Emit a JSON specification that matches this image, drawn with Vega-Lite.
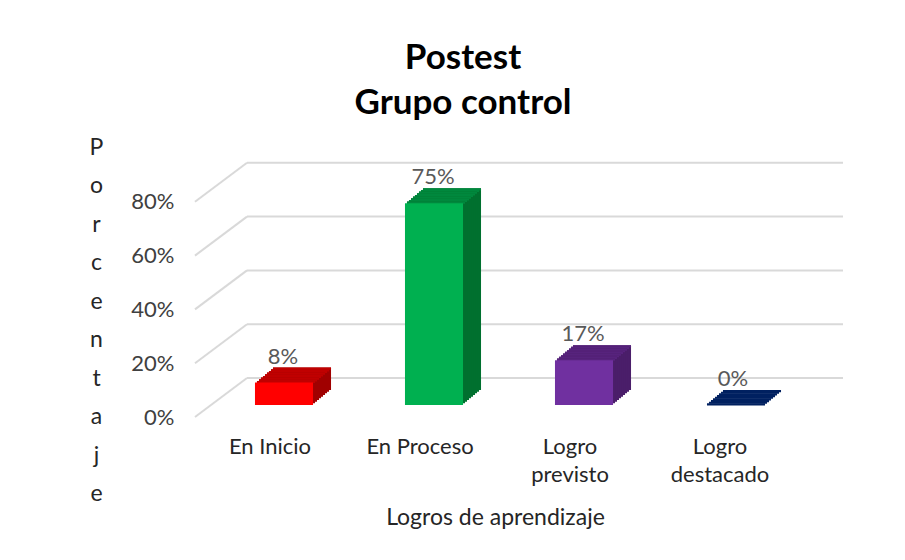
{
  "$schema": "https://vega.github.io/schema/vega-lite/v6.json",
  "width": 600,
  "height": 269,
  "autosize": "none",
  "padding": {"left": 195, "top": 148, "right": 110, "bottom": 143},
  "background": "white",
  "title": {
    "text": ["Postest", "Grupo control"],
    "font": "Lato",
    "fontSize": 35,
    "fontWeight": "bold",
    "color": "black",
    "lineHeight": 45,
    "anchor": "middle",
    "frame": "group",
    "dx": -32,
    "offset": 15
  },
  "datasets": {
    "bars": [
      {"cat": "En Inicio", "v": 0.0833},
      {"cat": "En Proceso", "v": 0.75},
      {"cat": "Logro previsto", "v": 0.1667},
      {"cat": "Logro destacado", "v": 0}
    ],
    "grid": [{"v": 0}, {"v": 0.2}, {"v": 0.4}, {"v": 0.6}, {"v": 0.8}]
  },
  "config": {
    "font": "Lato",
    "view": {"stroke": null},
    "axis": {"labelFont": "Lato", "titleFont": "Lato"}
  },
  "resolve": {"scale": {"color": "independent"}},
  "layer": [
    {
      "data": {"name": "grid"},
      "mark": {"type": "rule", "color": "#D9D9D9", "strokeWidth": 2, "xOffset": 52, "x2Offset": 48, "yOffset": -39},
      "encoding": {
        "x": {"value": 0},
        "x2": {"value": "width"},
        "y": {
          "field": "v", "type": "quantitative",
          "scale": {"domain": [0, 1]},
          "axis": {
            "values": [0, 0.2, 0.4, 0.6, 0.8],
            "format": ".0%",
            "grid": false, "ticks": false, "domain": false,
            "labelFontSize": 22, "labelColor": "#404040", "labelPadding": 21,
            "title": ["P", "o", "r", "c", "e", "n", "t", "a", "j", "e"],
            "titleAngle": 0, "titleAlign": "center", "titleBaseline": "middle",
            "titleX": -99, "titleY": -1, "titleLineHeight": 38.5,
            "titleFontSize": 23, "titleFontWeight": "normal", "titleColor": "#262626"
          }
        }
      }
    },
    {
      "data": {"name": "grid"},
      "mark": {"type": "rule", "color": "#D9D9D9", "strokeWidth": 2, "x2Offset": 52, "y2Offset": -39},
      "encoding": {
        "x": {"value": 0},
        "x2": {"value": 0},
        "y": {"field": "v", "type": "quantitative"},
        "y2": {"field": "v"}
      }
    },
    {
      "data": {"name": "bars"},
      "resolve": {"scale": {"color": "independent"}},
      "layer": [
        {"mark": {"type": "bar", "width": {"band": 0.387}, "xOffset": 32, "yOffset": -27, "y2Offset": -27},
         "encoding": {"y2": {"datum": 0}, "color": {"field": "cat", "type": "nominal", "legend": null, "scale": {"domain": ["En Inicio", "En Proceso", "Logro previsto", "Logro destacado"], "range": ["#A00000", "#00702F", "#4A1E6A", "#002060"]}}}},
        {"mark": {"type": "bar", "width": {"band": 0.387}, "xOffset": 32, "yOffset": -27, "y2Offset": -24.8},
         "encoding": {"y2": {"field": "v"}, "color": {"field": "cat", "type": "nominal", "legend": null, "scale": {"domain": ["En Inicio", "En Proceso", "Logro previsto", "Logro destacado"], "range": ["#C00000", "#00883D", "#57237D", "#002060"]}}}},
        {"mark": {"type": "bar", "width": {"band": 0.387}, "xOffset": 30, "yOffset": -25.33, "y2Offset": -25.33},
         "encoding": {"y2": {"datum": 0}, "color": {"field": "cat", "type": "nominal", "legend": null, "scale": {"domain": ["En Inicio", "En Proceso", "Logro previsto", "Logro destacado"], "range": ["#A00000", "#00702F", "#4A1E6A", "#002060"]}}}},
        {"mark": {"type": "bar", "width": {"band": 0.387}, "xOffset": 30, "yOffset": -25.33, "y2Offset": -23.13},
         "encoding": {"y2": {"field": "v"}, "color": {"field": "cat", "type": "nominal", "legend": null, "scale": {"domain": ["En Inicio", "En Proceso", "Logro previsto", "Logro destacado"], "range": ["#C00000", "#00883D", "#57237D", "#002060"]}}}},
        {"mark": {"type": "bar", "width": {"band": 0.387}, "xOffset": 28, "yOffset": -23.67, "y2Offset": -23.67},
         "encoding": {"y2": {"datum": 0}, "color": {"field": "cat", "type": "nominal", "legend": null, "scale": {"domain": ["En Inicio", "En Proceso", "Logro previsto", "Logro destacado"], "range": ["#A00000", "#00702F", "#4A1E6A", "#002060"]}}}},
        {"mark": {"type": "bar", "width": {"band": 0.387}, "xOffset": 28, "yOffset": -23.67, "y2Offset": -21.47},
         "encoding": {"y2": {"field": "v"}, "color": {"field": "cat", "type": "nominal", "legend": null, "scale": {"domain": ["En Inicio", "En Proceso", "Logro previsto", "Logro destacado"], "range": ["#C00000", "#00883D", "#57237D", "#002060"]}}}},
        {"mark": {"type": "bar", "width": {"band": 0.387}, "xOffset": 26, "yOffset": -22, "y2Offset": -22},
         "encoding": {"y2": {"datum": 0}, "color": {"field": "cat", "type": "nominal", "legend": null, "scale": {"domain": ["En Inicio", "En Proceso", "Logro previsto", "Logro destacado"], "range": ["#A00000", "#00702F", "#4A1E6A", "#002060"]}}}},
        {"mark": {"type": "bar", "width": {"band": 0.387}, "xOffset": 26, "yOffset": -22, "y2Offset": -19.8},
         "encoding": {"y2": {"field": "v"}, "color": {"field": "cat", "type": "nominal", "legend": null, "scale": {"domain": ["En Inicio", "En Proceso", "Logro previsto", "Logro destacado"], "range": ["#C00000", "#00883D", "#57237D", "#002060"]}}}},
        {"mark": {"type": "bar", "width": {"band": 0.387}, "xOffset": 24, "yOffset": -20.33, "y2Offset": -20.33},
         "encoding": {"y2": {"datum": 0}, "color": {"field": "cat", "type": "nominal", "legend": null, "scale": {"domain": ["En Inicio", "En Proceso", "Logro previsto", "Logro destacado"], "range": ["#A00000", "#00702F", "#4A1E6A", "#002060"]}}}},
        {"mark": {"type": "bar", "width": {"band": 0.387}, "xOffset": 24, "yOffset": -20.33, "y2Offset": -18.13},
         "encoding": {"y2": {"field": "v"}, "color": {"field": "cat", "type": "nominal", "legend": null, "scale": {"domain": ["En Inicio", "En Proceso", "Logro previsto", "Logro destacado"], "range": ["#C00000", "#00883D", "#57237D", "#002060"]}}}},
        {"mark": {"type": "bar", "width": {"band": 0.387}, "xOffset": 22, "yOffset": -18.67, "y2Offset": -18.67},
         "encoding": {"y2": {"datum": 0}, "color": {"field": "cat", "type": "nominal", "legend": null, "scale": {"domain": ["En Inicio", "En Proceso", "Logro previsto", "Logro destacado"], "range": ["#A00000", "#00702F", "#4A1E6A", "#002060"]}}}},
        {"mark": {"type": "bar", "width": {"band": 0.387}, "xOffset": 22, "yOffset": -18.67, "y2Offset": -16.47},
         "encoding": {"y2": {"field": "v"}, "color": {"field": "cat", "type": "nominal", "legend": null, "scale": {"domain": ["En Inicio", "En Proceso", "Logro previsto", "Logro destacado"], "range": ["#C00000", "#00883D", "#57237D", "#002060"]}}}},
        {"mark": {"type": "bar", "width": {"band": 0.387}, "xOffset": 20, "yOffset": -17, "y2Offset": -17},
         "encoding": {"y2": {"datum": 0}, "color": {"field": "cat", "type": "nominal", "legend": null, "scale": {"domain": ["En Inicio", "En Proceso", "Logro previsto", "Logro destacado"], "range": ["#A00000", "#00702F", "#4A1E6A", "#002060"]}}}},
        {"mark": {"type": "bar", "width": {"band": 0.387}, "xOffset": 20, "yOffset": -17, "y2Offset": -14.8},
         "encoding": {"y2": {"field": "v"}, "color": {"field": "cat", "type": "nominal", "legend": null, "scale": {"domain": ["En Inicio", "En Proceso", "Logro previsto", "Logro destacado"], "range": ["#C00000", "#00883D", "#57237D", "#002060"]}}}},
        {"mark": {"type": "bar", "width": {"band": 0.387}, "xOffset": 18, "yOffset": -15.33, "y2Offset": -15.33},
         "encoding": {"y2": {"datum": 0}, "color": {"field": "cat", "type": "nominal", "legend": null, "scale": {"domain": ["En Inicio", "En Proceso", "Logro previsto", "Logro destacado"], "range": ["#A00000", "#00702F", "#4A1E6A", "#002060"]}}}},
        {"mark": {"type": "bar", "width": {"band": 0.387}, "xOffset": 18, "yOffset": -15.33, "y2Offset": -13.13},
         "encoding": {"y2": {"field": "v"}, "color": {"field": "cat", "type": "nominal", "legend": null, "scale": {"domain": ["En Inicio", "En Proceso", "Logro previsto", "Logro destacado"], "range": ["#C00000", "#00883D", "#57237D", "#002060"]}}}},
        {"mark": {"type": "bar", "width": {"band": 0.387}, "xOffset": 16, "yOffset": -13.67, "y2Offset": -13.67},
         "encoding": {"y2": {"datum": 0}, "color": {"field": "cat", "type": "nominal", "legend": null, "scale": {"domain": ["En Inicio", "En Proceso", "Logro previsto", "Logro destacado"], "range": ["#A00000", "#00702F", "#4A1E6A", "#002060"]}}}},
        {"mark": {"type": "bar", "width": {"band": 0.387}, "xOffset": 16, "yOffset": -13.67, "y2Offset": -11.47},
         "encoding": {"y2": {"field": "v"}, "color": {"field": "cat", "type": "nominal", "legend": null, "scale": {"domain": ["En Inicio", "En Proceso", "Logro previsto", "Logro destacado"], "range": ["#C00000", "#00883D", "#57237D", "#002060"]}}}},
        {"mark": {"type": "bar", "width": {"band": 0.387}, "xOffset": 14, "yOffset": -12, "y2Offset": -12},
         "encoding": {"y2": {"datum": 0}, "color": {"field": "cat", "type": "nominal", "legend": null, "scale": {"domain": ["En Inicio", "En Proceso", "Logro previsto", "Logro destacado"], "range": ["#FF0000", "#00B050", "#7030A0", "#002060"]}}}},
        {"mark": {"type": "text", "xOffset": 13, "yOffset": -38, "fontSize": 22, "color": "#595959", "baseline": "middle"},
         "encoding": {"text": {"field": "v", "type": "quantitative", "format": ".0%"}}}
      ],
      "encoding": {
        "x": {
          "field": "cat", "type": "nominal", "sort": null,
          "scale": {"paddingInner": 0, "paddingOuter": 0},
          "axis": {
            "labelAngle": 0, "ticks": false, "domain": false, "grid": false,
            "labelFontSize": 22, "labelColor": "#262626", "labelPadding": 19,
            "labelLineHeight": 28, "labelBaseline": "top",
            "labelExpr": "test(/^Logro /, datum.label) ? split(datum.label, ' ') : datum.label",
            "title": "Logros de aprendizaje",
            "titleFontSize": 23, "titleFontWeight": "normal", "titleColor": "#262626", "titlePadding": 21
          }
        },
        "y": {"field": "v", "type": "quantitative"}
      }
    }
  ]
}
